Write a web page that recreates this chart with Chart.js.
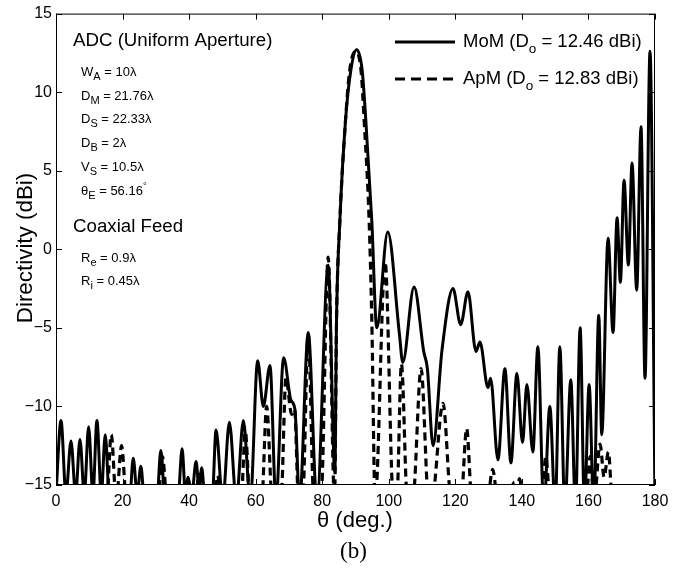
<!DOCTYPE html>
<html>
<head>
<meta charset="utf-8">
<script src="https://cdn.jsdelivr.net/npm/chart.js@4"></script>
<style>
  body { margin: 0; background: #fff; }
  canvas { display: block; }
</style>
</head>
<body>
<canvas id="chart" width="690" height="573"></canvas>
<script>
// MoM (solid) - theta in degrees, directivity in dBi (values under -15 sit below the axis and get clipped)
const momTheta = [0, 1.5, 3, 4.5, 5.9, 7.2, 8.5, 9.8, 11.1, 12.3, 13.6, 14.8, 16.1, 22.1, 23.2, 24.4, 25.5, 26.6,
  30.3, 31.5, 32.8, 36.6, 37.9, 38.9, 39.7, 40.8, 42.1, 43, 43.8, 44.8, 46.9, 48.1, 50.1, 52.1, 54.2, 56.3, 58.4,
  60.6, 62.3, 64.3, 66.1, 68.4, 70.6, 71.8, 73.2, 75.8, 78.4, 81.8, 83.8, 84.3, 85.3, 87.0, 88.6, 90.35, 92.0,
  93.1, 94.9, 96.4, 99.7, 103.2, 104.2, 107.6, 110.5, 111.6, 113.3, 116, 119.3, 121.6, 123.8, 126.2, 127.4,
  129.8, 130.6, 132.8, 134.9, 136.7, 138.5, 140.2, 141.5, 143.3, 144.8, 146.6, 148.4, 150, 151.4, 152.9,
  154.7, 156.1, 157.5, 158.8, 160.2, 161.6, 163.1, 164, 165.9, 167.4, 168.6, 169.6, 170.7, 172, 173.1,
  174.5, 175.8, 177, 178.5, 180];
const momDir = [-15.6, -10.9, -15.6, -12.2, -15.6, -12.1, -15.6, -11.3, -15.6, -10.9, -15.6, -11.8, -16, -16, -13.3, -15.6, -13.8, -16,
  -16, -12.8, -16, -16, -12.7, -15.6, -14.5, -15.6, -13.5, -15.3, -13.9, -16, -16, -11.5, -16, -11.0, -16, -10.9, -16,
  -7.1, -10.0, -7.4, -16, -6.9, -9.6, -10.2, -16, -5.3, -16, -1.0, -14.2, -4.5, 1.8, 8.2, 11.4, 12.7, 11.4,
  8.2, 1.8, -5.0, 1.1, -5.4, -7.2, -2.4, -6.5, -7.6, -12.5, -6.4, -2.5, -4.8, -2.7, -6.5, -5.9,
  -8.8, -8.2, -13.4, -7.6, -13.6, -7.9, -12.3, -8.6, -12.9, -6.2, -16.5, -10.0, -16.5, -6.2, -16.5,
  -8.3, -16.5, -5.0, -16.5, -8.6, -16.5, -4.2, -11.8, 0.7, -5.3, 2.0, -2.1, 4.4, -1.0, 5.5,
  -2.6, 7.8, -8.2, 12.6, -16];

// ApM (dashed)
const apmTheta = [0, 15.2, 16.6, 18.1, 19.7, 21.2, 30.6, 32, 33.4, 41.8, 43, 44.3, 47.6, 48.6, 49.6,
  55.6, 56.9, 58.3, 61.8, 63.3, 65, 67.6, 69.1, 70.8, 71.7, 72.9, 74.1, 75.8, 77.5, 79.6, 81.8, 83.7,
  84.3, 85.3, 87.0, 88.2, 90.0, 91.7, 92.6, 94.1, 94.9, 95.9, 98.9, 101.4, 102.4, 103.8, 105.6,
  107.2, 109.7, 112, 112.9, 116.3, 118.8, 121.7, 123.4, 125, 129.6, 131.2, 132.8, 136.3, 137.2, 138.2,
  139.3, 140.4, 145.9, 147.2, 148.5, 159.3, 160.5, 161.7, 163.5, 164.7, 166, 167.2, 180];
const apmDir = [-16, -16, -11.8, -16, -12.5, -16, -16, -13.2, -16, -16, -14.3, -16, -16, -14.4, -16,
  -16, -11.6, -16, -16, -10.0, -16, -16, -8.2, -10.5, -10.2, -16, -16, -5.4, -16, -16, -0.5, -16,
  -4.5, 1.8, 8.2, 11.3, 12.6, 11.3, 8.2, 1.8, -4.5, -16, -0.8, -16, -16, -7.3, -16,
  -16, -7.6, -16, -16, -9.8, -16, -16, -11.4, -16, -16, -14.0, -16, -16, -14.8, -16,
  -14.6, -16, -16, -13.2, -16, -16, -13.2, -16, -12.4, -14.5, -12.9, -16, -16];

const seriesNames = ['MoM', 'ApM'];
const seriesDo = ['12.46', '12.83'];

const paramLines = [
  [['W'], ['A', 'sub'], [' = 10\u03bb']],
  [['D'], ['M', 'sub'], [' = 21.76\u03bb']],
  [['D'], ['S', 'sub'], [' = 22.33\u03bb']],
  [['D'], ['B', 'sub'], [' = 2\u03bb']],
  [['V'], ['S', 'sub'], [' = 10.5\u03bb']],
  [['\u03b8'], ['E', 'sub'], [' = 56.16'], ['\u00b0', 'sup']]
];
const feedLines = [
  [['R'], ['e', 'sub'], [' = 0.9\u03bb']],
  [['R'], ['i', 'sub'], [' = 0.45\u03bb']]
];

const SANS = '"Liberation Sans", Arial, sans-serif';

function toPoints(xs, ys) {
  return xs.map((x, i) => ({ x: x, y: ys[i] }));
}

function drawRich(ctx, x, y, parts, size, subSize, subOff) {
  parts.forEach(([t, kind]) => {
    let s = size, dy = 0;
    if (kind === 'sub') { s = subSize; dy = subOff; }
    if (kind === 'sup') { s = size * 0.7; dy = -size * 0.45; }
    ctx.font = `${s}px ${SANS}`;
    ctx.fillText(t, x, y + dy);
    x += ctx.measureText(t).width;
  });
}

const decorations = {
  id: 'decorations',
  afterDraw(chart) {
    const { ctx, chartArea: a, scales } = chart;
    ctx.save();
    ctx.strokeStyle = '#000';
    ctx.fillStyle = '#000';
    ctx.lineWidth = 1;

    // box
    ctx.strokeRect(a.left + 0.5, a.top + 0.5, a.right - a.left - 1, a.bottom - a.top - 1);

    // inward ticks
    const tl = 6;
    ctx.beginPath();
    scales.x.ticks.forEach(t => {
      const px = Math.round(scales.x.getPixelForValue(t.value)) + 0.5;
      ctx.moveTo(px, a.bottom); ctx.lineTo(px, a.bottom - tl);
      ctx.moveTo(px, a.top); ctx.lineTo(px, a.top + tl);
    });
    scales.y.ticks.forEach(t => {
      const py = Math.round(scales.y.getPixelForValue(t.value)) + 0.5;
      ctx.moveTo(a.left, py); ctx.lineTo(a.left + tl, py);
      ctx.moveTo(a.right, py); ctx.lineTo(a.right - tl, py);
    });
    ctx.stroke();

    // axis titles
    ctx.textAlign = 'left';
    ctx.textBaseline = 'alphabetic';
    ctx.font = `22px ${SANS}`;
    ctx.fillText('\u03b8 (deg.)', 317, 527);
    ctx.save();
    ctx.translate(32, 248);
    ctx.rotate(-Math.PI / 2);
    ctx.textAlign = 'center';
    ctx.font = `22.4px ${SANS}`;
    ctx.fillText('Directivity (dBi)', 0, 0);
    ctx.restore();

    ctx.font = '23px "Liberation Serif", "Times New Roman", serif';
    ctx.fillText('(b)', 340, 558);

    // annotation block
    ctx.font = `18.7px ${SANS}`;
    ctx.fillText('ADC (Uniform Aperture)', 73, 46);
    ctx.fillText('Coaxial Feed', 73, 232);
    const paramY = [76, 100, 123, 147, 171, 195];
    paramLines.forEach((p, i) => drawRich(ctx, 81, paramY[i], p, 13, 11, 3.5));
    const feedY = [262, 285];
    feedLines.forEach((p, i) => drawRich(ctx, 81, feedY[i], p, 13, 11, 3.5));

    // legend
    const legY = [42, 79];
    ctx.lineWidth = 2.8;
    chart.data.datasets.forEach((ds, i) => {
      ctx.setLineDash(ds.borderDash ? [10, 6] : []);
      ctx.beginPath();
      ctx.moveTo(395, legY[i]);
      ctx.lineTo(455, legY[i]);
      ctx.stroke();
      ctx.setLineDash([]);
      drawRich(ctx, 463, legY[i] + 5, [[seriesNames[i] + ' (D'], ['o', 'sub'], [' = ' + seriesDo[i] + ' dBi)']], 18.5, 13.5, 6);
    });
    ctx.restore();
  }
};

new Chart(document.getElementById('chart'), {
  type: 'line',
  data: {
    datasets: [
      {
        label: seriesNames[0],
        data: toPoints(momTheta, momDir),
        borderColor: '#000',
        borderWidth: 3,
        pointRadius: 0,
        cubicInterpolationMode: 'monotone',
        clip: 0
      },
      {
        label: seriesNames[1],
        data: toPoints(apmTheta, apmDir),
        borderColor: '#000',
        borderWidth: 3.2,
        borderDash: [8, 5],
        pointRadius: 0,
        cubicInterpolationMode: 'monotone',
        clip: 0
      }
    ]
  },
  options: {
    responsive: false,
    animation: false,
    layout: { padding: { top: 13, right: 35, left: 0, bottom: 0 } },
    plugins: { legend: { display: false }, tooltip: { enabled: false } },
    scales: {
      x: {
        type: 'linear',
        min: 0, max: 180,
        grid: { display: false, drawTicks: false, tickLength: 0 },
        border: { display: false },
        ticks: { stepSize: 20, color: '#000', font: { family: SANS, size: 16 }, padding: 7, maxRotation: 0 },
        afterFit: s => { s.height = 88; }
      },
      y: {
        min: -15, max: 15,
        grid: { display: false, drawTicks: false, tickLength: 0 },
        border: { display: false },
        ticks: {
          stepSize: 5, color: '#000', font: { family: SANS, size: 16 }, padding: 4,
          callback: v => String(v).replace('-', '\u2212')
        },
        afterFit: s => { s.width = 56; }
      }
    }
  },
  plugins: [decorations]
});
</script>
</body>
</html>
